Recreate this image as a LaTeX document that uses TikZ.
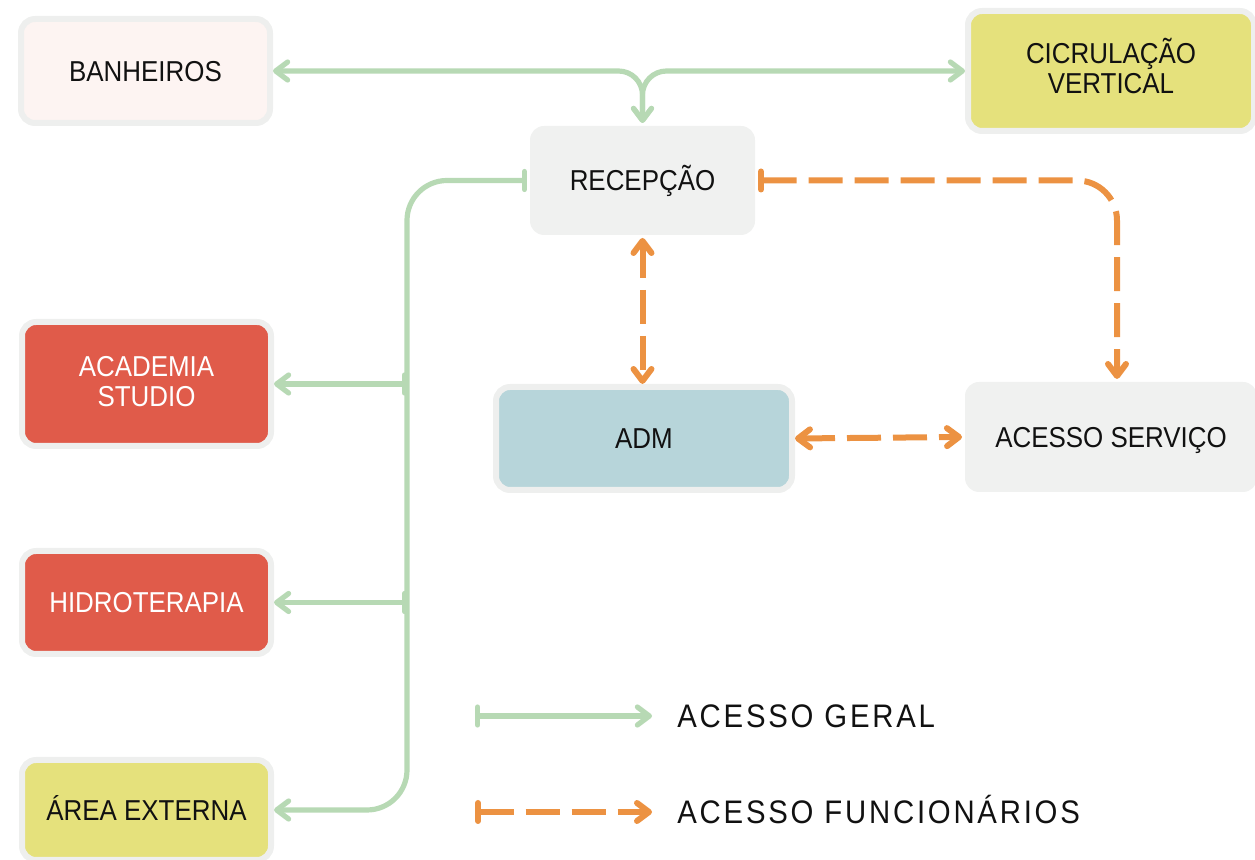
\documentclass[tikz,border=0pt]{standalone}
\usepackage{fontspec}
\setmainfont{Liberation Sans}[FakeStretch=0.9]
\newfontfamily\legendfont{Liberation Sans}[FakeStretch=0.9,LetterSpace=8.5]
\usetikzlibrary{arrows.meta}
\definecolor{verde}{HTML}{B7D9B4}
\definecolor{laranja}{HTML}{EC9242}
\definecolor{vermelho}{HTML}{E05B4A}
\definecolor{amarelo}{HTML}{E5E17C}
\definecolor{azul}{HTML}{B7D5DA}
\definecolor{cinza}{HTML}{F0F1F0}
\definecolor{rim}{HTML}{EEEFEE}
\definecolor{rosa}{HTML}{FDF4F2}
\definecolor{ink}{HTML}{111111}
\newcommand{\lowpad}[1]{\rule[-#1]{0pt}{1pt}}
\begin{document}
\begin{tikzpicture}[x=0.5pt,y=-0.5pt,
  room/.style={rounded corners=7pt, draw=rim, line width=3pt, inner sep=0pt,
    align=center, font=\fontsize{14.4}{15}\selectfont, text=ink},
  bare/.style={room, draw=none},
  oneline/.style={text height=10.3pt, text depth=0pt},
  geral/.style={draw=verde, line width=2.6pt},
  func/.style={draw=laranja, line width=3pt, dash pattern=on 17pt off 6pt},
  barb/.tip={Straight Barb[length=6pt,width=9pt,round]},
  tee/.tip={Bar[width=9pt,round]},
  legend/.style={anchor=base west, inner sep=0pt, text=ink,
    font=\legendfont\fontsize{16.3}{18}\selectfont}]
\useasboundingbox (0,0) rectangle (1255,860);

% rooms
\node[room, oneline, fill=rosa, minimum width=124.5pt, minimum height=52pt] (banh) at (145.5,71) {BANHEIROS};
\node[room, fill=amarelo, minimum width=143pt, minimum height=60pt] (circ) at (1111,71) {CICRULAÇÃO\\VERTICAL\lowpad{5pt}};
\node[bare, oneline, fill=cinza, minimum width=112.5pt, minimum height=54.5pt] (recep) at (642.5,180.5) {RECEPÇÃO};
\node[room, fill=vermelho, text=white, minimum width=124.5pt, minimum height=62pt] (acad) at (146.5,384) {ACADEMIA\\STUDIO\lowpad{3pt}};
\node[room, oneline, fill=vermelho, text=white, minimum width=124.5pt, minimum height=51.5pt] (hidro) at (146.5,602.5) {HIDROTERAPIA};
\node[room, oneline, fill=amarelo, minimum width=124.5pt, minimum height=50pt] (area) at (146.5,810) {ÁREA EXTERNA};
\node[room, oneline, fill=azul, minimum width=148pt, minimum height=51.5pt] (adm) at (644,438.5) {ADM};
\node[bare, oneline, fill=cinza, minimum width=146pt, minimum height=55pt] (serv) at (1111,437) {ACESSO SERVIÇO};

% general access
\draw[geral, rounded corners=12pt, barb-barb] (recep.north) |- (banh.east);
\draw[geral, rounded corners=12pt, barb-barb] (recep.north) |- (circ.west);
\coordinate (trunk) at (407,180.5);
\draw[geral, rounded corners=20pt, tee-barb] (recep.west) -- (trunk) |- (area.east);
\draw[geral, tee-barb] (trunk |- acad.east) -- (acad.east);
\draw[geral, tee-barb] (trunk |- hidro.east) -- (hidro.east);

% staff access
\draw[func, rounded corners=20pt, tee-barb] (recep.east) -| ([xshift=3pt]serv.north);
\draw[func, barb-barb] (recep.south) -- (recep.south |- adm.north);
\draw[func, barb-barb] (adm.east) -- (serv.west);

% legend
\coordinate (g0) at (475,716);
\coordinate (g1) at (652,716);
\coordinate (f0) at (475,812);
\coordinate (f1) at (652,812);
\draw[geral, tee-barb] (g0) -- (g1);
\draw[func, tee-barb] (f0) -- (f1);
\node[legend] (lgeral) at (677,728) {ACESSO GERAL};
\node[legend] (lfunc) at (677,824) {ACESSO FUNCIONÁRIOS};
\end{tikzpicture}
\end{document}
